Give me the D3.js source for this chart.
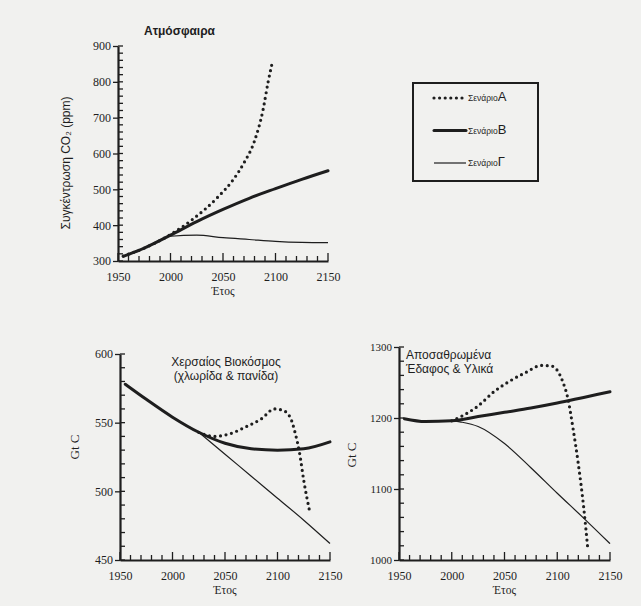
<!DOCTYPE html>
<html>
<head>
<meta charset="utf-8">
<script src="https://cdn.jsdelivr.net/npm/d3@7"></script>
<style>
  body { margin: 0; background: #f1f1ef; }
  svg { display: block; }
</style>
</head>
<body>
<script>
// tick labels
let yearTicks = [1950, 2000, 2050, 2100, 2150];
let atmTicks = [300, 400, 500, 600, 700, 800, 900];
let bioTicks = [450, 500, 550, 600];
let soilTicks = [1000, 1100, 1200, 1300];

// scenario names
let scenarios = ["Α", "Β", "Γ"];

// Atmosphere, CO2 ppm  [year, value]
let atmA = [[1955,314],[1975,336],[2000,374],[2020,414],[2045,478],[2060,528],[2070,574],[2080,635],[2088,720],[2093,800],[2097,855]];
let atmB = [[1955,313],[1975,336],[2000,372],[2025,410],[2050,444],[2075,475],[2100,502],[2125,528],[2150,552]];
let atmC = [[1955,313],[1975,336],[2000,369],[2025,372],[2050,365],[2075,360],[2100,355],[2125,352],[2150,351]];

// Land biosphere, Gt C
let bioA = [[2025,543],[2040,540],[2055,542],[2070,547],[2085,553],[2097,560],[2105,559],[2112,554],[2117,542],[2121,528],[2125,508],[2131,484]];
let bioB = [[1955,578],[1975,567],[2000,554],[2025,543],[2050,535],[2075,531],[2100,530],[2125,531],[2150,536]];
let bioC = [[2025,543],[2050,527],[2075,511],[2100,495],[2125,479],[2150,462]];

// Weathered soil & material, Gt C
let soilA = [[2000,1196],[2010,1203],[2025,1217],[2040,1237],[2055,1252],[2070,1264],[2085,1274],[2095,1273],[2105,1252],[2110,1228],[2115,1185],[2120,1135],[2125,1075],[2129,1015]];
let soilB = [[1955,1199],[1975,1195],[2000,1196],[2025,1202],[2050,1208],[2075,1214],[2100,1221],[2125,1229],[2150,1237]];
let soilC = [[1955,1199],[1975,1195],[2000,1196],[2010,1194],[2025,1188],[2050,1164],[2075,1130],[2100,1094],[2125,1059],[2150,1023]];

let ink = "#1e1e1e";
let serif = "'Liberation Serif', 'DejaVu Serif', serif";
let sans = "'Liberation Sans', Arial, sans-serif";

let svg = d3.select("body").append("svg")
    .attr("width", 641)
    .attr("height", 606);

let styles = {
    "Α": { width: 3.2, dash: "0 5.6", cap: "round" },
    "Β": { width: 3, dash: null, cap: "round" },
    "Γ": { width: 1.2, dash: null, cap: "butt" }
};

function drawPanel(p) {
    let x = d3.scaleLinear().domain([1950, 2150]).range([p.x0, p.x1]);
    let y = d3.scaleLinear().domain(p.yDomain).range([p.y0, p.y1]);
    let g = svg.append("g");

    // minor ticks on the inside of each axis
    g.selectAll(".ytick")
        .data(y.ticks(p.minorY))
        .enter()
        .append("line")
        .attr("x1", p.x0).attr("x2", p.x0 + 5)
        .attr("y1", d => y(d)).attr("y2", d => y(d))
        .attr("stroke", ink)
        .attr("stroke-width", 1.3);
    g.selectAll(".xtick")
        .data(x.ticks(20))
        .enter()
        .append("line")
        .attr("x1", d => x(d)).attr("x2", d => x(d))
        .attr("y1", p.y0).attr("y2", d => p.y0 - (d % 50 === 0 ? 8 : 5))
        .attr("stroke", ink)
        .attr("stroke-width", 1.3);

    // major axes
    let ya = g.append("g")
        .attr("transform", `translate(${p.x0},0)`)
        .call(d3.axisLeft(y).tickValues(p.yTicks).tickSize(5).tickSizeOuter(0).tickPadding(2).tickFormat(d3.format("d")));
    let xa = g.append("g")
        .attr("transform", `translate(0,${p.y0})`)
        .call(d3.axisBottom(x).tickValues(yearTicks).tickSize(0).tickSizeOuter(0).tickPadding(11).tickFormat(d3.format("d")));

    [ya, xa].forEach(a => {
        a.select(".domain").attr("stroke", ink).attr("stroke-width", 2.2);
        a.selectAll(".tick line").attr("stroke", ink).attr("stroke-width", 1.3);
    });
    ya.selectAll("text").attr("font-family", serif).attr("font-size", p.yFont).attr("fill", ink);
    xa.selectAll("text").attr("font-family", serif).attr("font-size", "12px").attr("fill", ink);

    // axis titles
    g.append("text")
        .attr("x", (p.x0 + p.x1) / 2)
        .attr("y", p.y0 + 34)
        .attr("text-anchor", "middle")
        .attr("font-family", serif)
        .attr("font-size", "11.5px")
        .attr("fill", ink)
        .text("Έτος");
    g.append("text")
        .attr("transform", `translate(${p.ylx},${p.yly}) rotate(-90)`)
        .attr("text-anchor", "middle")
        .attr("font-family", p.ylabFont)
        .attr("font-size", p.ylabSize)
        .attr("fill", ink)
        .text(p.ylabel);

    // panel title
    p.title.forEach((t, i) => {
        g.append("text")
            .attr("x", p.tx)
            .attr("y", p.ty + i * 14)
            .attr("text-anchor", p.tAnchor)
            .attr("font-family", sans)
            .attr("font-size", "12px")
            .attr("font-weight", p.tWeight)
            .attr("fill", ink)
            .text(t);
    });

    let line = d3.line()
        .x(d => x(d[0]))
        .y(d => y(d[1]))
        .curve(d3.curveMonotoneX);

    // thin first, then thick, then dotted on top
    [["Γ", p.data[2]], ["Β", p.data[1]], ["Α", p.data[0]]].forEach(([k, d]) => {
        let s = styles[k];
        g.append("path")
            .datum(d)
            .attr("d", line)
            .attr("fill", "none")
            .attr("stroke", ink)
            .attr("stroke-width", s.width)
            .attr("stroke-linecap", s.cap)
            .attr("stroke-dasharray", s.dash);
    });
}

drawPanel({
    x0: 118, x1: 328, y0: 261, y1: 46,
    yDomain: [300, 900], yTicks: atmTicks, minorY: 30, yFont: "12px",
    ylabel: "Συγκέντρωση CO₂ (ppm)", ylx: 70, yly: 163, ylabFont: sans, ylabSize: "12px",
    title: ["Ατμόσφαιρα"], tx: 144, ty: 35, tAnchor: "start", tWeight: "bold",
    data: [atmA, atmB, atmC]
});

drawPanel({
    x0: 120, x1: 330, y0: 560, y1: 354,
    yDomain: [450, 600], yTicks: bioTicks, minorY: 15, yFont: "12px",
    ylabel: "Gt C", ylx: 79, yly: 447, ylabFont: serif, ylabSize: "13px",
    title: ["Χερσαίος Βιοκόσμος", "(χλωρίδα & πανίδα)"], tx: 226, ty: 366, tAnchor: "middle", tWeight: "normal",
    data: [bioA, bioB, bioC]
});

drawPanel({
    x0: 399, x1: 610, y0: 560, y1: 347,
    yDomain: [1000, 1300], yTicks: soilTicks, minorY: 15, yFont: "11px",
    ylabel: "Gt C", ylx: 356, yly: 455, ylabFont: serif, ylabSize: "13px",
    title: ["Αποσαθρωμένα", "Έδαφος & Υλικά"], tx: 406, ty: 359, tAnchor: "start", tWeight: "normal",
    data: [soilA, soilB, soilC]
});

// legend
let legend = svg.append("g");
legend.append("rect")
    .attr("x", 413).attr("y", 83)
    .attr("width", 125).attr("height", 98)
    .attr("fill", "none")
    .attr("stroke", ink)
    .attr("stroke-width", 2);

let legY = d3.scalePoint().domain(scenarios).range([98, 163]);
scenarios.forEach(k => {
    let s = styles[k];
    legend.append("line")
        .attr("x1", 434).attr("x2", 466)
        .attr("y1", legY(k)).attr("y2", legY(k))
        .attr("stroke", ink)
        .attr("stroke-width", s.width)
        .attr("stroke-linecap", s.cap)
        .attr("stroke-dasharray", s.dash);
    let t = legend.append("text")
        .attr("x", 468).attr("y", legY(k) + 3)
        .attr("font-family", sans)
        .attr("fill", ink);
    t.append("tspan").attr("font-size", "8.5px").text("Σενάριο");
    t.append("tspan").attr("font-size", "13px").text(k);
});
</script>
</body>
</html>
